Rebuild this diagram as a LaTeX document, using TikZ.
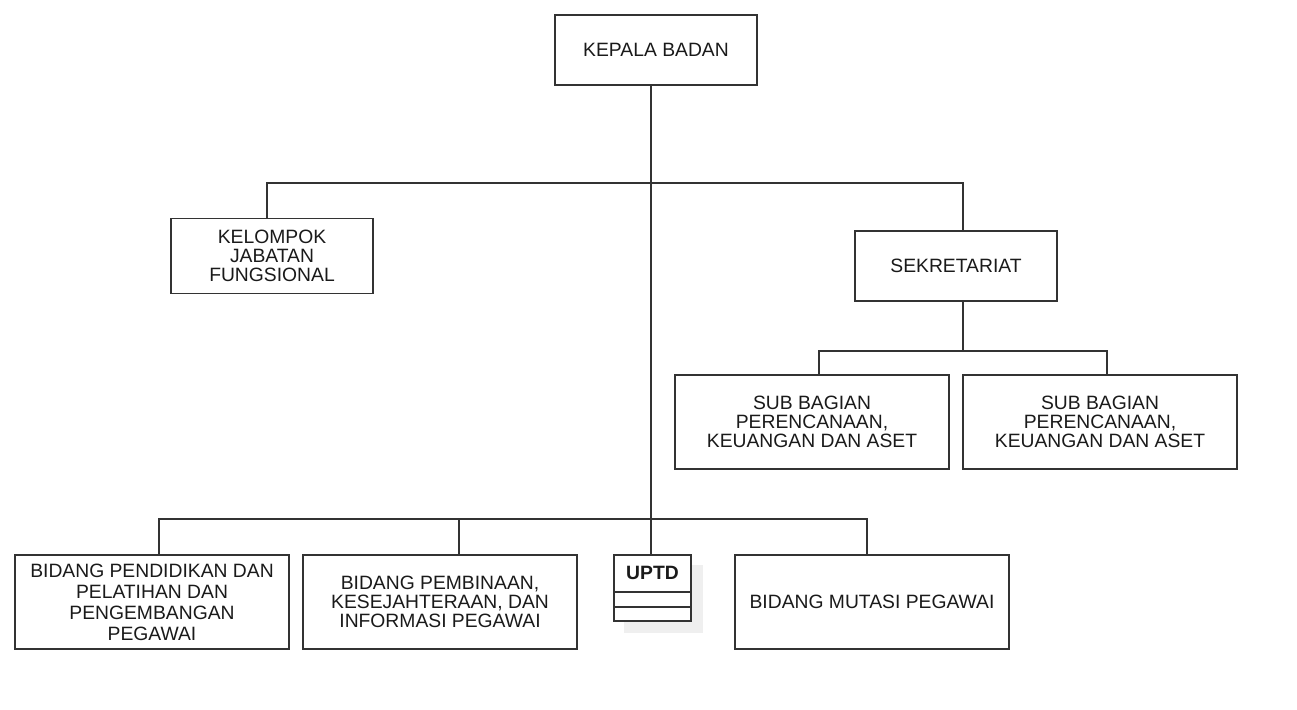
\documentclass[tikz,border=0pt]{standalone}
\usepackage{fontspec}
\setmainfont{Liberation Sans}
\usetikzlibrary{backgrounds}
\definecolor{linec}{HTML}{333333}
\definecolor{textc}{HTML}{1A1A1A}
\definecolor{shadowc}{HTML}{EFEFEF}
\begin{document}
\begin{tikzpicture}[x=1pt,y=-1pt,
  box/.style={draw=linec,line width=1.5pt,fill=white,inner sep=0pt,align=center,
    text=textc,font=\fontsize{19.3}{19}\selectfont},
  wide/.style={box,minimum width=274pt,minimum height=94pt},
  narrow/.style={box,minimum width=202pt,minimum height=70pt},
  conn/.style={draw=linec,line width=1.5pt}]
\useasboundingbox (0,0) rectangle (1297,709);
\node[narrow] (kepala) at (656,50) {KEPALA BADAN};
\node[narrow,minimum height=75pt] (kelompok) at (272,256) {KELOMPOK\\JABATAN\\FUNGSIONAL};
\node[narrow] (sekre) at (956,266) {SEKRETARIAT};
\node[wide] (sub1) at (812,422) {SUB BAGIAN\\PERENCANAAN,\\KEUANGAN DAN ASET};
\node[wide] (sub2) at (1100,422) {SUB BAGIAN\\PERENCANAAN,\\KEUANGAN DAN ASET};
\node[wide,font=\fontsize{19.3}{21}\selectfont] (bid1) at (152,602) {BIDANG PENDIDIKAN DAN\\PELATIHAN DAN\\PENGEMBANGAN\\PEGAWAI};
\node[wide] (bid2) at (440,602) {BIDANG PEMBINAAN,\\KESEJAHTERAAN, DAN\\INFORMASI PEGAWAI};
\node[wide] (mutasi) at (872,602) {BIDANG MUTASI PEGAWAI};
\node[box,minimum width=77pt,minimum height=66pt] (uptd) at (652.5,588) {};
\node[text=textc,font=\fontsize{19.3}{19}\selectfont\bfseries] (uptdlabel) at (652.5,573) {UPTD};
\draw[conn] (uptd.west |- 0,592) -- (uptd.east |- 0,592);
\draw[conn] (uptd.west |- 0,607) -- (uptd.east |- 0,607);
\begin{scope}[on background layer]
\fill[shadowc] ([shift={(11pt,-11pt)}]uptd.north west) rectangle ([shift={(11pt,-11pt)}]uptd.south east);
\end{scope}
\coordinate (trunk) at (651,183);
\coordinate (sbus) at (963,351);
\coordinate (bbus) at (651,519);
\draw[conn] (trunk |- kepala.south) -- (trunk |- uptd.north);
\draw[conn] ([xshift=-5pt]kelompok.north) |- (trunk) -| ([xshift=7pt]sekre.north);
\draw[conn] ([xshift=7pt]sekre.south) -- (sbus);
\draw[conn] ([xshift=7pt]sub1.north) |- (sbus) -| ([xshift=7pt]sub2.north);
\draw[conn] ([xshift=7pt]bid1.north) |- (bbus) -| ([xshift=-5pt]mutasi.north);
\draw[conn] ([xshift=19pt]bid2.north) -- ([xshift=19pt]bid2.north |- bbus);
\end{tikzpicture}
\end{document}
